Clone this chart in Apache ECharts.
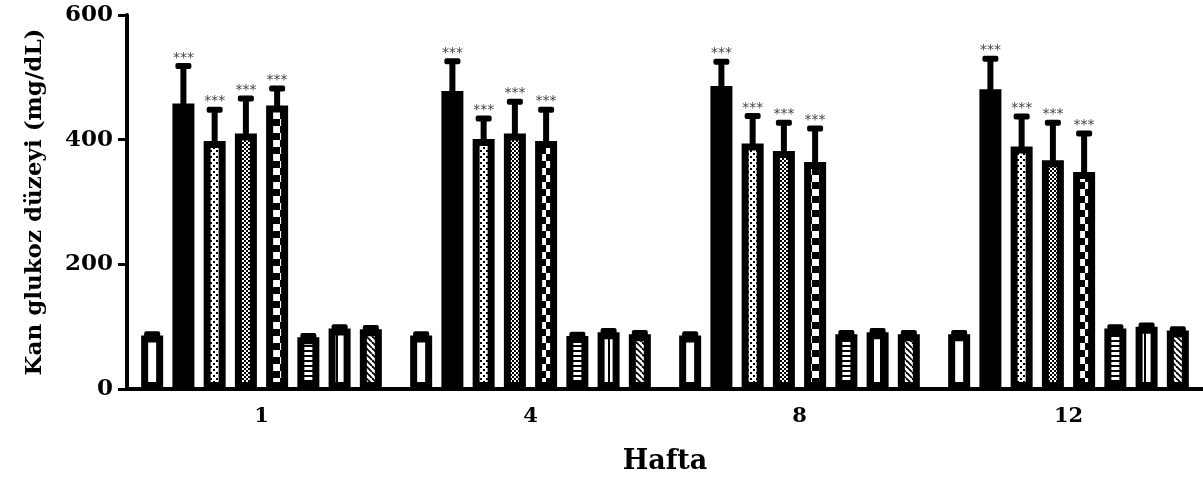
<!DOCTYPE html>
<html>
<head>
<meta charset="utf-8">
<script src="https://cdn.jsdelivr.net/npm/echarts/dist/echarts.min.js"></script>
<style>
html,body{margin:0;padding:0;background:#fff;}
#chart{width:1203px;height:480px;}
</style>
</head>
<body>
<div id="chart"></div>
<script>
// ---------- DATA ----------
const categories = ['1', '4', '8', '12'];
const seriesNames = ['Grup 1', 'Grup 2', 'Grup 3', 'Grup 4', 'Grup 5', 'Grup 6', 'Grup 7', 'Grup 8'];
const values1 = [86, 86, 86, 88];
const values2 = [458, 478, 486, 481];
const values3 = [398, 401, 394, 389];
const values4 = [410, 410, 382, 367];
const values5 = [455, 398, 364, 348];
const values6 = [83, 85, 88, 97];
const values7 = [97, 91, 91, 100];
const values8 = [96, 88, 88, 94];
const errors1 = [2, 2, 2, 2];
const errors2 = [60, 48, 39, 49];
const errors3 = [50, 33, 44, 48];
const errors4 = [56, 51, 45, 60];
const errors5 = [27, 50, 54, 62];
const errors6 = [2, 2, 2, 2];
const errors7 = [2, 2, 2, 2];
const errors8 = [2, 2, 2, 2];
const significant = [false, true, true, true, true, false, false, false];
const sigLabel = '***';
const yTicks = [0, 200, 400, 600];
const yAxisName = 'Kan glukoz düzeyi (mg/dL)';
const xAxisName = 'Hafta';

const allValues = [values1, values2, values3, values4, values5, values6, values7, values8];
const allErrors = [errors1, errors2, errors3, errors4, errors5, errors6, errors7, errors8];

// ---------- STYLE ----------
const BAR_W = 22;
const BAR_GAP = 0.42;
const BORDER = 7;
const FONT = 'DejaVu Serif';

function makePattern(w, h, draw) {
  const c = document.createElement('canvas');
  c.width = w; c.height = h;
  const ctx = c.getContext('2d');
  ctx.fillStyle = '#fff';
  ctx.fillRect(0, 0, w, h);
  ctx.fillStyle = '#000';
  ctx.strokeStyle = '#000';
  draw(ctx, w, h);
  return { image: c, repeat: 'repeat' };
}

const fills = [
  '#ffffff',
  '#000000',
  makePattern(6, 6, (ctx) => { ctx.fillRect(0, 0, 2, 2); ctx.fillRect(3, 3, 2, 2); }),
  makePattern(4, 4, (ctx) => { ctx.fillRect(0, 0, 2, 2); ctx.fillRect(2, 2, 2, 2); }),
  makePattern(14, 14, (ctx) => { ctx.fillRect(0, 0, 7, 7); ctx.fillRect(7, 7, 7, 7); }),
  makePattern(5, 5, (ctx) => { ctx.fillRect(0, 0, 5, 2); }),
  makePattern(8, 8, (ctx) => { ctx.fillRect(0, 0, 2, 8); }),
  makePattern(6, 6, (ctx, w, h) => {
    ctx.lineWidth = 1.8;
    for (let k = -6; k <= 6; k += 6) {
      ctx.beginPath(); ctx.moveTo(k, 0); ctx.lineTo(k + 6, 6); ctx.stroke();
    }
  })
];

const barSeries = allValues.map((vals, i) => ({
  name: seriesNames[i],
  type: 'bar',
  barWidth: BAR_W,
  barGap: (BAR_GAP * 100) + '%',
  data: vals,
  z: 2,
  itemStyle: {
    color: fills[i],
    borderColor: '#000',
    borderWidth: BORDER,
    borderRadius: 0,
    borderJoin: 'miter'
  },
  emphasis: { disabled: true }
}));

const errData = [];
allValues.forEach((vals, si) => {
  vals.forEach((v, ci) => {
    errData.push([ci, si, v, allErrors[si][ci], significant[si] ? 1 : 0]);
  });
});

const nSeries = allValues.length;
function barOffset(si) {
  const total = nSeries * BAR_W + (nSeries - 1) * BAR_W * BAR_GAP;
  return -total / 2 + si * BAR_W * (1 + BAR_GAP) + BAR_W / 2;
}

const errSeries = {
  type: 'custom',
  z: 5,
  encode: { x: 0, y: 2 },
  data: errData,
  silent: true,
  renderItem: function (params, api) {
    const ci = api.value(0), si = api.value(1), v = api.value(2), e = api.value(3), sig = api.value(4);
    const base = api.coord([ci, v]);
    const top = api.coord([ci, v + e]);
    const x = base[0] + barOffset(si);
    const children = [
      { type: 'line', shape: { x1: x, y1: base[1] + 2, x2: x, y2: top[1] }, style: { stroke: '#000', lineWidth: 6 } },
      { type: 'rect', shape: { x: x - 8, y: top[1] - 3, width: 16, height: 6, r: 2 }, style: { fill: '#000' } }
    ];
    if (sig) {
      children.push({
        type: 'text',
        style: {
          text: sigLabel, x: x, y: top[1] - 1,
          align: 'center', verticalAlign: 'bottom',
          fill: '#444', font: '14px "DejaVu Sans"'
        }
      });
    }
    return { type: 'group', children: children };
  }
};

const chart = echarts.init(document.getElementById('chart'), null, { renderer: 'canvas' });
chart.setOption({
  animation: false,
  backgroundColor: '#fff',
  grid: { left: 127, top: 15, width: 1082, bottom: 90, containLabel: false },
  xAxis: {
    type: 'category',
    data: categories,
    boundaryGap: true,
    axisLine: { lineStyle: { color: '#000', width: 4 } },
    axisTick: { alignWithLabel: true, length: 8, lineStyle: { color: '#000', width: 3 } },
    axisLabel: { color: '#000', fontFamily: FONT, fontWeight: 'bold', fontSize: 21, margin: 17 },
    name: xAxisName,
    nameLocation: 'middle',
    nameGap: 59,
    nameMoveOverlap: false,
    nameTextStyle: { color: '#000', fontFamily: FONT, fontWeight: 'bold', fontSize: 27 }
  },
  yAxis: {
    type: 'value',
    min: yTicks[0],
    max: yTicks[yTicks.length - 1],
    interval: yTicks[1] - yTicks[0],
    splitLine: { show: false },
    axisLine: { show: true, lineStyle: { color: '#000', width: 4 } },
    axisTick: { show: true, length: 9, lineStyle: { color: '#000', width: 3 } },
    axisLabel: { color: '#000', fontFamily: FONT, fontWeight: 'bold', fontSize: 23, margin: 14 },
    name: yAxisName,
    nameLocation: 'middle',
    nameRotate: 90,
    nameGap: 80,
    nameMoveOverlap: false,
    nameTextStyle: { color: '#000', fontFamily: FONT, fontWeight: 'bold', fontSize: 23 }
  },
  series: barSeries.concat([errSeries])
});
</script>
</body>
</html>
